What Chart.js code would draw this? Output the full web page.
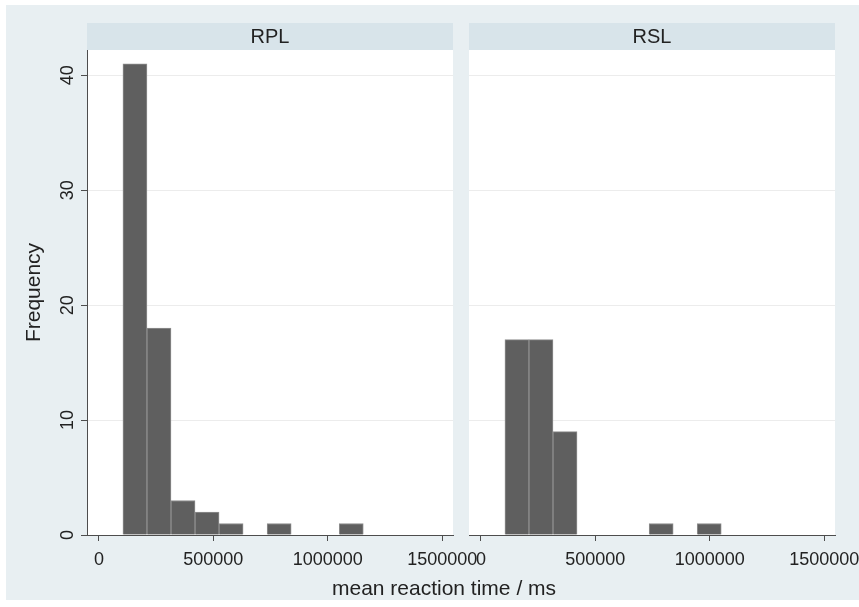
<!DOCTYPE html>
<html>
<head>
<meta charset="utf-8">
<script src="https://cdn.jsdelivr.net/npm/chart.js@4"></script>
<style>
  html, body { margin: 0; padding: 0; background: #fff; overflow: hidden; }
  #page { position: relative; width: 859px; height: 607px; overflow: hidden; }
  #bg { position: absolute; left: 6px; top: 5px; width: 853px; height: 595px; background: #e8eff2; }
  .panel { position: absolute; top: 0; }
  #left { left: 0; width: 560px; height: 607px; }
  #right { left: 440px; width: 450px; height: 607px; }
</style>
</head>
<body>
<div id="page">
  <div id="bg"></div>
  <div class="panel" id="left"><canvas id="rpl"></canvas></div>
  <div class="panel" id="right"><canvas id="rsl"></canvas></div>
</div>
<script>
"use strict";

// histogram bins: lower edge of each bin and its count
const binWidth = 105000;
const rplBinStart = [105000, 210000, 315000, 420000, 525000, 735000, 1050000];
const rplCounts = [41, 18, 3, 2, 1, 1, 1];
const rslBinStart = [105000, 210000, 315000, 735000, 945000];
const rslCounts = [17, 17, 9, 1, 1];

const xTicks = [0, 500000, 1000000, 1500000];
const yTicks = [0, 10, 20, 30, 40];
const panelTitles = ["RPL", "RSL"];
const yTitle = "Frequency";
const xTitle = "mean reaction time / ms";

const FONT = '"Liberation Sans", Arial, sans-serif';
const INK = "#222";
const AXIS = "#4d4d4d";

Chart.defaults.font.family = FONT;
Chart.defaults.color = INK;

function toBars(starts, counts) {
  return starts.map((s, i) => ({ x: s + binWidth / 2, y: counts[i] }));
}

// white plot area + header strip with the panel name
const panelPlugin = {
  id: "panel",
  beforeDraw(chart, args, opts) {
    const { ctx, chartArea } = chart;
    ctx.save();
    ctx.fillStyle = "#fff";
    ctx.fillRect(chartArea.left, chartArea.top, chartArea.width, chartArea.height);
    ctx.fillStyle = "#d8e4ea";
    ctx.fillRect(chartArea.left, 23, chartArea.width, chartArea.top - 23);
    ctx.fillStyle = INK;
    ctx.font = "20px " + FONT;
    ctx.textAlign = "center";
    ctx.textBaseline = "middle";
    ctx.fillText(opts.title, (chartArea.left + chartArea.right) / 2, 37);
    ctx.restore();
  },
};

// rotated y tick labels and the shared x title (left panel only)
const leftExtras = {
  id: "leftExtras",
  afterDraw(chart) {
    const { ctx } = chart;
    const y = chart.scales.y;
    ctx.save();
    ctx.fillStyle = INK;
    ctx.font = "18px " + FONT;
    ctx.textAlign = "center";
    ctx.textBaseline = "middle";
    y.ticks.forEach((t) => {
      ctx.save();
      ctx.translate(68, y.getPixelForValue(t.value));
      ctx.rotate(-Math.PI / 2);
      ctx.fillText(String(t.value), 0, 0);
      ctx.restore();
    });
    ctx.font = "21px " + FONT;
    ctx.textBaseline = "alphabetic";
    ctx.fillText(xTitle, 444, 595);
    ctx.restore();
  },
};

function makeChart(id, starts, counts, title, isLeft) {
  return new Chart(document.getElementById(id), {
    type: "bar",
    data: {
      datasets: [
        {
          data: toBars(starts, counts),
          backgroundColor: "#5f5f5f",
          borderColor: "#8f8f8f",
          borderWidth: 1,
          barPercentage: 1,
          categoryPercentage: 1,
        },
      ],
    },
    plugins: isLeft ? [panelPlugin, leftExtras] : [panelPlugin],
    options: {
      responsive: true,
      maintainAspectRatio: false,
      animation: false,
      layout: {
        padding: isLeft
          ? { top: 50, right: 107, bottom: 0, left: 0 }
          : { top: 50, right: 55, bottom: 0, left: 0 },
      },
      plugins: {
        legend: { display: false },
        tooltip: { enabled: false },
        panel: { title: title },
      },
      scales: {
        x: {
          type: "linear",
          offset: false,
          min: -52000,
          max: 1547000,
          afterBuildTicks: (s) => { s.ticks = xTicks.map((v) => ({ value: v })); },
          afterFit: (s) => { s.height = 72; },
          ticks: {
            font: { size: 18 },
            color: INK,
            padding: 8,
            maxRotation: 0,
            autoSkip: false,
            callback: (v) => String(v),
          },
          grid: {
            offset: false,
            drawOnChartArea: false,
            tickColor: AXIS,
            tickLength: 6,
          },
          border: { color: AXIS, width: 1 },
        },
        y: {
          min: 0,
          max: 42.2,
          afterBuildTicks: (s) => { s.ticks = yTicks.map((v) => ({ value: v })); },
          afterFit: (s) => { s.width = isLeft ? 87 : 29; },
          ticks: { display: false },
          grid: {
            color: "#ececec",
            tickColor: AXIS,
            tickLength: 6,
            drawTicks: isLeft,
          },
          border: { display: isLeft, color: AXIS, width: 1 },
          title: {
            display: isLeft,
            text: yTitle,
            font: { size: 21 },
            color: INK,
            padding: { top: 22, bottom: 0 },
          },
        },
      },
    },
  });
}

makeChart("rpl", rplBinStart, rplCounts, panelTitles[0], true);
makeChart("rsl", rslBinStart, rslCounts, panelTitles[1], false);
</script>
</body>
</html>
